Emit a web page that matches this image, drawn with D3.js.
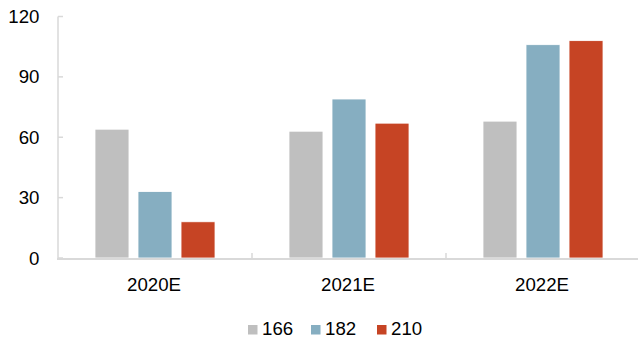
<!DOCTYPE html>
<html><head><meta charset="utf-8">
<script src="https://cdn.jsdelivr.net/npm/d3@7"></script>
<style>html,body{margin:0;padding:0;background:#fff;}svg{display:block;}</style>
</head><body>
<script>
const categories = ["2020E", "2021E", "2022E"];
const seriesNames = ["166", "182", "210"];
const s166 = [64, 63, 68];
const s182 = [33, 79, 106];
const s210 = [18, 67, 108];
const yTicks = [0, 30, 60, 90, 120];
const colors = ["#bfbfbf", "#86aec1", "#c64424"];

const W = 638, H = 340;
const svg = d3.select("body").append("svg").attr("width", W).attr("height", H);
const font = "'Liberation Sans', Arial, sans-serif";
const fs = "18.67px";

const x0 = d3.scaleBand().domain(categories).range([58, 640]).paddingInner(0).paddingOuter(0);
const y = d3.scaleLinear().domain([0, 120]).range([258, 16.5]);
const x1 = d3.scaleBand().domain(seriesNames).range([0, x0.bandwidth()]).paddingInner(0.21).paddingOuter(0.86);

const seriesVals = [s166, s182, s210];
const data = categories.map((c, i) => ({cat: c, vals: seriesNames.map((s, j) => ({s, v: seriesVals[j][i], color: colors[j]}))}));

// bars
const g = svg.append("g");
g.selectAll("g.grp").data(data).join("g").attr("class", "grp")
  .attr("transform", d => `translate(${x0(d.cat)},0)`)
  .selectAll("rect").data(d => d.vals).join("rect")
  .attr("x", d => x1(d.s))
  .attr("width", x1.bandwidth())
  .attr("y", d => y(d.v))
  .attr("height", d => y(0) - y(d.v))
  .attr("fill", d => d.color)
  .attr("stroke", "#ffffff").attr("stroke-width", 0.8);

// y axis
const yAxis = svg.append("g");
yAxis.append("line").attr("x1", 58).attr("x2", 58).attr("y1", y(120)).attr("y2", y(0))
  .attr("stroke", "#d9d9d9").attr("stroke-width", 1.5);
yAxis.selectAll("line.tk").data(yTicks).join("line").attr("class", "tk")
  .attr("x1", 58).attr("x2", 63).attr("y1", d => y(d)).attr("y2", d => y(d))
  .attr("stroke", "#d9d9d9").attr("stroke-width", 1.5);
yAxis.selectAll("text").data(yTicks).join("text")
  .attr("x", 39.5).attr("y", d => y(d) + 6.5)
  .attr("text-anchor", "end").attr("font-family", font).attr("font-size", fs).attr("fill", "#000")
  .text(d => d);

// x axis
const xAxis = svg.append("g");
xAxis.append("line").attr("x1", 57).attr("x2", 640).attr("y1", 259).attr("y2", 259)
  .attr("stroke", "#d9d9d9").attr("stroke-width", 2);
xAxis.selectAll("line.tk").data(categories.slice(1)).join("line").attr("class", "tk")
  .attr("x1", d => x0(d)).attr("x2", d => x0(d)).attr("y1", 253).attr("y2", 259)
  .attr("stroke", "#d9d9d9").attr("stroke-width", 1.5);
xAxis.selectAll("text").data(categories).join("text")
  .attr("x", d => x0(d) + x0.bandwidth() / 2 - 1).attr("y", 290.5)
  .attr("text-anchor", "middle").attr("font-family", font).attr("font-size", fs).attr("fill", "#000")
  .text(d => d);

// legend
const legX = [248, 311, 377];
const leg = svg.append("g");
const items = leg.selectAll("g").data(seriesNames).join("g")
  .attr("transform", (d, i) => `translate(${legX[i]},0)`);
items.append("rect").attr("x", 0).attr("y", 325).attr("width", 9.5).attr("height", 9.5)
  .attr("fill", (d, i) => colors[i]);
items.append("text").attr("x", 14).attr("y", 335)
  .attr("font-family", font).attr("font-size", fs).attr("fill", "#000").text(d => d);
</script>
</body></html>
